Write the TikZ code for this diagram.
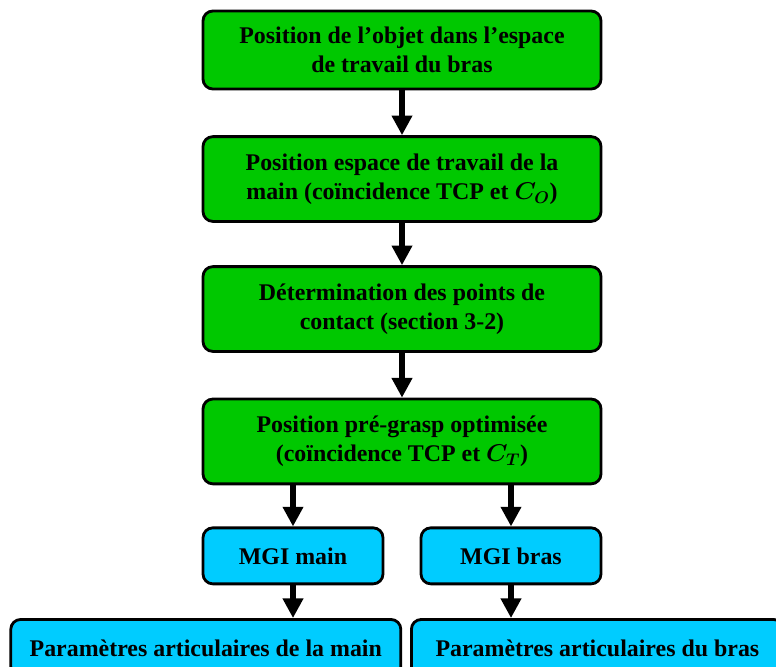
\documentclass[tikz,border=0pt]{standalone}
\usepackage{fontspec}
\setmainfont{Liberation Serif}
\usetikzlibrary{arrows.meta, positioning}
\definecolor{boxgreen}{RGB}{0,200,0}
\definecolor{boxcyan}{RGB}{0,204,255}

\begin{document}
\begin{tikzpicture}[node distance=11mm, >={Triangle[width=14pt,length=14pt]},
    font=\fontsize{17}{21}\selectfont\bfseries\boldmath,
    etape/.style={draw, line width=2pt, rounded corners=7pt, fill=boxgreen, align=center,
      minimum width=9.95cm, minimum height=2.12cm, inner sep=0pt},
    calcul/.style={etape, fill=boxcyan, minimum width=4.5cm, minimum height=1.4cm},
    resultat/.style={calcul, minimum height=1.42cm},
    fleche/.style={->, line width=4.2pt}]
        \useasboundingbox (0,0) rectangle (19.4,-16.65);
        \node (pos) [etape, minimum height=1.95cm] at (10.05,-1.25) {Position de l’objet dans l’espace\\de travail du bras};
        \node (main) [etape, below=11.2mm of pos] {Position espace de travail de la\\main (coïncidence TCP et $C_O$)};
        \node (contact) [etape, below=10.6mm of main] {Détermination des points de\\contact (section 3-2)};
        \node (pregrasp) [etape, below=11.2mm of contact] {Position pré-grasp optimisée\\(coïncidence TCP et $C_T$)};
        \node (mgim) [calcul, below right=10.3mm and 0mm of pregrasp.south west] {MGI main};
        \node (mgib) [calcul, below left=10.3mm and 0mm of pregrasp.south east] {MGI bras};
        \node (pmain) [resultat, minimum width=9.75cm, below=8.2mm of mgim, xshift=-2.18cm] {Paramètres articulaires de la main};
        \node (pbras) [resultat, minimum width=9.3cm, below=8.2mm of mgib, xshift=2.16cm] {Paramètres articulaires du bras};
        \draw[fleche] (pos) -- (main); \draw[fleche] (main) -- (contact);
        \draw[fleche] (contact) -- (pregrasp);
        \draw[fleche] (pregrasp.south -| mgim) -- (mgim);
        \draw[fleche] (pregrasp.south -| mgib) -- (mgib);
        \draw[fleche] (mgim) -- (mgim |- pmain.north);
        \draw[fleche] (mgib) -- (mgib |- pbras.north);
      \end{tikzpicture}
\end{document}
